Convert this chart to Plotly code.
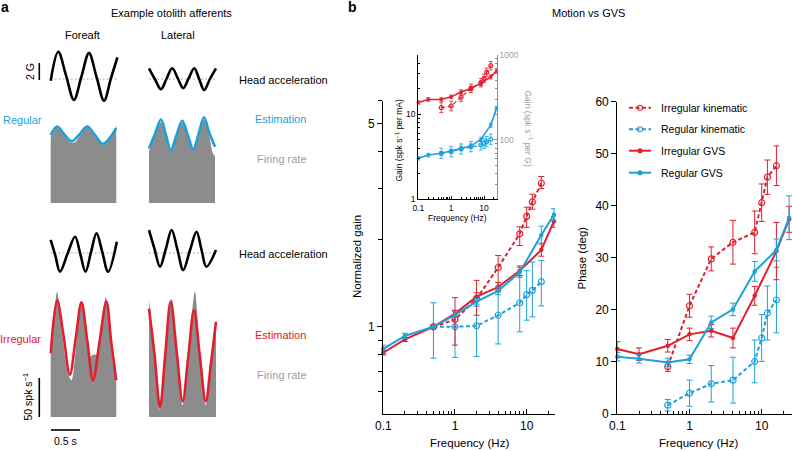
import plotly.graph_objects as go
import math

W, H = 792, 451
BLUE = "#1DA1DB"
RED = "#E0202E"
FILL = "#8C8C8C"
GTXT = "#9E9E9E"
FONT = "Liberation Sans, Arial, sans-serif"

# ---------------- panel b : normalized gain ----------------
GVS_FREQ = [0.1, 0.2, 0.5, 1, 2, 4, 8, 16, 24]
KIN_FREQ = [0.5, 1, 2, 4, 8, 10, 12, 16]

GAIN_IRR_GVS = [0.815, 0.905, 1.0, 1.11, 1.27, 1.37, 1.56, 1.84, 2.31]
GAIN_IRR_GVS_HI = [0.83, 0.92, 1.0, 1.14, 1.31, 1.42, 1.62, 1.93, 2.40]
GAIN_IRR_GVS_LO = [0.80, 0.89, 1.0, 1.08, 1.23, 1.32, 1.50, 1.75, 2.20]
GAIN_REG_GVS = [0.84, 0.93, 1.0, 1.10, 1.22, 1.33, 1.54, 2.07, 2.43]
GAIN_REG_GVS_HI = [0.865, 0.95, 1.0, 1.13, 1.25, 1.37, 1.60, 2.22, 2.55]
GAIN_REG_GVS_LO = [0.81, 0.91, 1.0, 1.08, 1.19, 1.29, 1.48, 1.94, 2.32]
GAIN_IRR_KIN = [1.0, 1.06, 1.25, 1.60, 2.09, 2.40, 2.69, 3.12]
GAIN_IRR_KIN_HI = [1.0, 1.26, 1.445, 1.76, 2.21, 2.58, 2.86, 3.29]
GAIN_IRR_KIN_LO = [1.0, 0.865, 1.096, 1.335, 1.905, 2.20, 2.54, 2.99]
GAIN_REG_KIN = [1.0, 1.0, 1.008, 1.096, 1.21, 1.29, 1.335, 1.43]
GAIN_REG_KIN_HI = [1.21, 1.135, 1.177, 1.378, 1.50, 1.56, 1.67, 1.69]
GAIN_REG_KIN_LO = [0.78, 0.785, 0.79, 0.873, 0.961, 1.054, 1.082, 1.18]

# ---------------- panel b : phase (deg) ----------------
PH_IRR_GVS = [12.5, 11.5, 13.1, 15.3, 16.0, 14.6, 22.7, 31.3, 37.4]
PH_IRR_GVS_ERR = [1.4, 1.2, 1.2, 1.2, 1.2, 1.9, 1.8, 5.5, 2.5]
PH_REG_GVS = [11.0, 10.6, 9.9, 10.5, 17.6, 20.1, 27.4, 31.5, 37.7]
PH_REG_GVS_ERR = [0.8, 0.8, 0.8, 0.8, 1.2, 1.2, 1.9, 2.1, 4.2]
PH_IRR_KIN = [9.1, 20.8, 29.8, 33.0, 34.9, 40.6, 45.5, 47.7]
PH_IRR_KIN_ERR = [0.9, 2.2, 2.3, 4.2, 4.1, 3.6, 3.3, 3.8]
PH_REG_KIN = [1.7, 4.0, 5.8, 6.5, 10.1, 14.6, 19.4, 21.9]
PH_REG_KIN_ERR = [1.1, 2.5, 3.5, 4.4, 4.1, 4.5, 5.2, 6.3]

# ---------------- inset : absolute gain ----------------
INS_IRR_GVS = [13.8, 15.0, 15.0, 16.1, 18.4, 20.2, 23.2, 27.7, 32.6]   # spk/s per mA
INS_REG_GVS = [3.04, 3.32, 3.48, 3.70, 3.98, 4.24, 5.08, 7.48, 11.8]
INS_GVS_REL_ERR = [0.05, 0.05, 0.05, 0.05, 0.06, 0.06, 0.06, 0.06, 0.06]
INS_IRR_KIN = [240, 251, 318, 405, 472, 532, 625, 748]                 # spk/s per G
INS_REG_KIN = [69.7, 72.8, 78.3, 83.4, 87.3, 91.4, 95.5, 102]
INS_IRR_KIN_REL_ERR = [0.14, 0.14, 0.12, 0.12, 0.12, 0.12, 0.12, 0.12]
INS_REG_KIN_REL_ERR = [0.15, 0.15, 0.15, 0.15, 0.15, 0.15, 0.15, 0.15]

# ---------------- panel a : example traces ----------------
# head acceleration (G) vs time (s)
HA_REG_FA_T = [0, 0.13, 0.265, 0.40, 0.53, 0.66, 0.79, 0.92, 1.035, 1.15]
HA_REG_FA_G = [-0.2, 3.25, 0.4, -2.5, 0.3, 3.1, 0.25, -2.6, 0.0, 2.6]
HA_REG_LAT_T = [0, 0.10, 0.207, 0.30, 0.40, 0.495, 0.59, 0.685, 0.78, 0.865, 0.95, 1.05, 1.155]
HA_REG_LAT_G = [1.28, 0.0, -1.23, 0.0, 1.28, 0.1, -1.11, 0.1, 1.28, 0.0, -1.32, 0.0, 1.28]
HA_IRR_FA_T = [0, 0.08, 0.16, 0.29, 0.42, 0.51, 0.60, 0.695, 0.79, 0.89, 0.99, 1.14]
HA_IRR_FA_G = [1.56, -0.3, -2.24, -0.1, 1.95, -0.1, -2.24, 0.1, 2.36, 0.1, -2.24, 1.35]
HA_IRR_LAT_T = [0, 0.095, 0.19, 0.29, 0.39, 0.49, 0.59, 0.705, 0.82, 0.905, 0.99, 1.155]
HA_IRR_LAT_G = [2.75, 0.5, -1.64, 0.5, 2.75, 0.4, -2.04, 0.3, 2.55, 0.4, -1.64, 0.36]

# estimation (spk/s)
EST_REG_FA_T = [0, 0.11, 0.235, 0.36, 0.495, 0.63, 0.765, 0.90, 1.13]
EST_REG_FA_V = [87, 98, 88, 79, 88, 98, 87, 76, 96]
EST_REG_LAT_T = [0, 0.1, 0.207, 0.29, 0.374, 0.474, 0.574, 0.67, 0.764, 0.856, 0.948, 1.04, 1.138]
EST_REG_LAT_V = [70, 88, 107, 88, 68, 87, 105.5, 87, 69, 89, 110, 90, 72]
EST_IRR_FA_T = [0, 0.11, 0.22, 0.33, 0.43, 0.53, 0.63, 0.73, 0.845, 0.96, 1.045, 1.13]
EST_IRR_FA_V = [82, 150, 105, 54, 100, 147, 98, 47, 98, 148, 95, 47]
EST_IRR_LAT_T = [0, 0.095, 0.19, 0.28, 0.374, 0.477, 0.58, 0.678, 0.776, 0.877, 0.978, 1.07, 1.155]
EST_IRR_LAT_V = [139, 80, 13, 80, 148, 84, 20, 78, 137, 78, 20, 70, 122]

# firing rate (spk/s)
FR_REG_FA_T = [0, 0.06, 0.11, 0.2, 0.3, 0.36, 0.42, 0.5, 0.58, 0.63, 0.7, 0.8, 0.9, 0.97, 1.05, 1.13]
FR_REG_FA_V = [84, 93, 97, 90, 80, 77, 78, 86, 95, 97, 93, 84, 76, 79, 88, 99]
FR_REG_LAT_T = [0, 0.1, 0.207, 0.29, 0.374, 0.474, 0.574, 0.67, 0.764, 0.856, 0.948, 1.04, 1.1, 1.138]
FR_REG_LAT_V = [66, 86, 104, 86, 67, 86, 103, 85, 68, 88, 107, 86, 64, 60]
FR_IRR_FA_T = [0, 0.06, 0.11, 0.2, 0.3, 0.36, 0.45, 0.53, 0.62, 0.68, 0.73, 0.79, 0.86, 0.95, 1.0, 1.07, 1.13]
FR_IRR_FA_V = [85, 130, 161, 105, 55, 47, 100, 147, 100, 77, 80, 80, 110, 154, 120, 70, 43]
FR_IRR_LAT_T = [0, 0.1, 0.19, 0.28, 0.39, 0.48, 0.58, 0.68, 0.79, 0.88, 0.978, 1.07, 1.155]
FR_IRR_LAT_V = [150, 80, 10, 82, 152, 84, 15, 80, 161, 80, 15, 72, 124]

# ---------------- layout geometry (pixels) ----------------
PX_PER_S = 58.0
PX_PER_G = 8.35
PX_PER_SPK = 0.78
X_FA, X_LAT = 50.7, 149.0
Y_REG_HA, Y_REG_FR, Y_IRR_HA, Y_IRR_FR = 79.0, 203.0, 253.0, 417.0


def dom_x(a, b):
    return [a / W, b / W]


def dom_y(top, bot):
    return [1 - bot / H, 1 - top / H]


fig = go.Figure()
OV = dict(xaxis="x5", yaxis="y5")


def px(t, v, x0, y0, s):
    return [x0 + ti * PX_PER_S for ti in t], [y0 - vi * s for vi in v]


# ---- panel a ----
def accel(t, g, x0, y0):
    xs, ys = px(t, g, x0, y0, PX_PER_G)
    fig.add_trace(go.Scatter(x=[xs[0], xs[-1]], y=[y0, y0], mode="lines",
                             line=dict(color="#9a9a9a", width=0.8, dash="2px,2px"),
                             hoverinfo="skip", showlegend=False, **OV))
    fig.add_trace(go.Scatter(x=xs, y=ys, mode="lines",
                             line=dict(color="black", width=2.6, shape="spline", smoothing=1),
                             hoverinfo="skip", showlegend=False, **OV))


def rate(t, v, x0, y0):
    xs, ys = px(t, v, x0, y0, PX_PER_SPK)
    fig.add_trace(go.Scatter(x=[xs[0], xs[-1]], y=[y0, y0], mode="lines",
                             line=dict(width=0, color=FILL), hoverinfo="skip",
                             showlegend=False, **OV))
    fig.add_trace(go.Scatter(x=xs, y=ys, mode="lines", fill="tonexty", fillcolor=FILL,
                             line=dict(width=0, color=FILL, shape="spline", smoothing=0.8),
                             hoverinfo="skip", showlegend=False, **OV))


def est(t, v, x0, y0, color):
    xs, ys = px(t, v, x0, y0, PX_PER_SPK)
    fig.add_trace(go.Scatter(x=xs, y=ys, mode="lines",
                             line=dict(color=color, width=2.6, shape="spline", smoothing=1),
                             hoverinfo="skip", showlegend=False, **OV))


accel(HA_REG_FA_T, HA_REG_FA_G, X_FA, Y_REG_HA)
accel(HA_REG_LAT_T, HA_REG_LAT_G, X_LAT, Y_REG_HA)
accel(HA_IRR_FA_T, HA_IRR_FA_G, X_FA, Y_IRR_HA)
accel(HA_IRR_LAT_T, HA_IRR_LAT_G, X_LAT, Y_IRR_HA)
rate(FR_REG_FA_T, FR_REG_FA_V, X_FA, Y_REG_FR)
rate(FR_REG_LAT_T, FR_REG_LAT_V, X_LAT, Y_REG_FR)
rate(FR_IRR_FA_T, FR_IRR_FA_V, X_FA, Y_IRR_FR)
rate(FR_IRR_LAT_T, FR_IRR_LAT_V, X_LAT, Y_IRR_FR)
est(EST_REG_FA_T, EST_REG_FA_V, X_FA, Y_REG_FR, BLUE)
est(EST_REG_LAT_T, EST_REG_LAT_V, X_LAT, Y_REG_FR, BLUE)
est(EST_IRR_FA_T, EST_IRR_FA_V, X_FA, Y_IRR_FR, RED)
est(EST_IRR_LAT_T, EST_IRR_LAT_V, X_LAT, Y_IRR_FR, RED)


# ---- panel b series ----
def series(x, y, hi, lo, color, kin, xa, ya, lw=2.0, msize=None, cap=3, ew=1.0):
    ey = None
    if hi is not None:
        ey = dict(type="data", symmetric=False,
                  array=[h - v for h, v in zip(hi, y)],
                  arrayminus=[v - l for v, l in zip(y, lo)],
                  color=color, thickness=ew, width=cap)
    if kin:
        marker = dict(symbol="circle-open", size=msize or 6, color=color,
                      line=dict(width=1.2, color=color))
        line = dict(color=color, width=lw, dash="4px,2.5px")
    else:
        marker = dict(symbol="circle", size=msize or 4.5, color=color)
        line = dict(color=color, width=lw)
    fig.add_trace(go.Scatter(x=x, y=y, mode="lines+markers", line=line, marker=marker,
                             error_y=ey, cliponaxis=False, showlegend=False,
                             xaxis=xa, yaxis=ya))


def sym(vals, errs):
    return [v + e for v, e in zip(vals, errs)], [v - e for v, e in zip(vals, errs)]


def rel(vals, r):
    return [v * (1 + e) for v, e in zip(vals, r)], [v / (1 + e) for v, e in zip(vals, r)]


# gain
series(KIN_FREQ, GAIN_REG_KIN, GAIN_REG_KIN_HI, GAIN_REG_KIN_LO, BLUE, True, "x", "y")
series(KIN_FREQ, GAIN_IRR_KIN, GAIN_IRR_KIN_HI, GAIN_IRR_KIN_LO, RED, True, "x", "y")
series(GVS_FREQ, GAIN_IRR_GVS, GAIN_IRR_GVS_HI, GAIN_IRR_GVS_LO, RED, False, "x", "y")
series(GVS_FREQ, GAIN_REG_GVS, GAIN_REG_GVS_HI, GAIN_REG_GVS_LO, BLUE, False, "x", "y")

# phase
h, l = sym(PH_REG_KIN, PH_REG_KIN_ERR)
series(KIN_FREQ, PH_REG_KIN, h, l, BLUE, True, "x2", "y2")
h, l = sym(PH_IRR_KIN, PH_IRR_KIN_ERR)
series(KIN_FREQ, PH_IRR_KIN, h, l, RED, True, "x2", "y2")
h, l = sym(PH_IRR_GVS, PH_IRR_GVS_ERR)
series(GVS_FREQ, PH_IRR_GVS, h, l, RED, False, "x2", "y2")
h, l = sym(PH_REG_GVS, PH_REG_GVS_ERR)
series(GVS_FREQ, PH_REG_GVS, h, l, BLUE, False, "x2", "y2")

# inset
h, l = rel(INS_REG_KIN, INS_REG_KIN_REL_ERR)
series(KIN_FREQ, INS_REG_KIN, h, l, BLUE, True, "x3", "y4", lw=1.2, msize=4, cap=2, ew=0.8)
h, l = rel(INS_IRR_KIN, INS_IRR_KIN_REL_ERR)
series(KIN_FREQ, INS_IRR_KIN, h, l, RED, True, "x3", "y4", lw=1.2, msize=4, cap=2, ew=0.8)
h, l = rel(INS_IRR_GVS, INS_GVS_REL_ERR)
series(GVS_FREQ, INS_IRR_GVS, h, l, RED, False, "x3", "y3", lw=1.6, msize=3.5, cap=2, ew=0.8)
h, l = rel(INS_REG_GVS, INS_GVS_REL_ERR)
series(GVS_FREQ, INS_REG_GVS, h, l, BLUE, False, "x3", "y3", lw=1.6, msize=3.5, cap=2, ew=0.8)

# ---- manual legend (phase panel) ----
LEG_Y = [107.7, 129.3, 150.7, 172.7]
LEG_TXT = ["Irregular kinematic", "Regular kinematic", "Irregular GVS", "Regular GVS"]
LEG_COL = [RED, BLUE, RED, BLUE]
LEG_KIN = [True, True, False, False]
shapes = []
for yy, c, k in zip(LEG_Y, LEG_COL, LEG_KIN):
    shapes.append(dict(type="line", xref="x5", yref="y5", x0=629, x1=651, y0=yy, y1=yy,
                       line=dict(color=c, width=2, dash="4px,2.5px" if k else "solid")))
    fig.add_trace(go.Scatter(x=[640], y=[yy], mode="markers", showlegend=False,
                             marker=dict(symbol="circle-open" if k else "circle",
                                         size=5 if k else 4, color=c,
                                         line=dict(width=1.1, color=c)),
                             hoverinfo="skip", **OV))

# scale bars
for (x0, y0, x1, y1) in [(39.3, 63, 39.3, 80), (39.3, 378, 39.3, 417), (51, 430, 80, 430)]:
    shapes.append(dict(type="line", xref="x5", yref="y5", x0=x0, y0=y0, x1=x1, y1=y1,
                       line=dict(color="black", width=1.6)))

ann = []


def txt(x, y, s, size=11, color="black", xa="center", angle=0):
    ann.append(dict(x=x, y=y, xref="x5", yref="y5", text=s, showarrow=False,
                    xanchor=xa, yanchor="middle", textangle=angle,
                    font=dict(size=size, color=color, family=FONT)))


txt(5, 7, "<b>a</b>", 14)
txt(352, 7, "<b>b</b>", 14)
txt(171, 13, "Example otolith afferents", 11)
txt(82.3, 35, "Foreaft", 11)
txt(178, 35, "Lateral", 11)
txt(29.5, 71.5, "2 G", 10.5, angle=-90)
txt(283, 80, "Head acceleration", 11)
txt(283, 253.5, "Head acceleration", 11)
txt(1, 120, "Regular", 11, BLUE, xa="left")
txt(43, 338.5, "Irregular", 11, RED, xa="right")
txt(280.7, 119, "Estimation", 11, BLUE)
txt(280.7, 335, "Estimation", 11, RED)
txt(281.5, 159, "Firing rate", 11, GTXT)
txt(281.5, 374.5, "Firing rate", 11, GTXT)
txt(27, 397.5, "50 spk s<sup>−1</sup>", 10.5, angle=-90)
txt(65.8, 440.5, "0.5 s", 10.5)
txt(588, 13, "Motion vs GVS", 11)
txt(357, 257, "Normalized gain", 11.5, angle=-90)
txt(581.5, 258, "Phase (deg)", 11.5, angle=-90)
txt(469, 443, "Frequency (Hz)", 11.5)
txt(698, 443, "Frequency (Hz)", 11.5)
txt(457.5, 217.5, "Frequency (Hz)", 8.5)
txt(398.5, 140, "Gain (spk s<sup>−1</sup> per mA)", 8.5, angle=-90)
txt(528, 128.5, "Gain (spk s<sup>−1</sup> per G)", 8.5, GTXT, angle=90)
for yy, s in zip(LEG_Y, LEG_TXT):
    txt(659, yy, s, 10.5, xa="left")

FREQ_MAJOR = [0.1, 1, 10]
FREQ_MINOR = [0.2, 0.3, 0.4, 0.5, 0.6, 0.7, 0.8, 0.9, 2, 3, 4, 5, 6, 7, 8, 9, 20]

common = dict(showline=True, linecolor="black", linewidth=1.2, showgrid=False,
              zeroline=False, tickcolor="black", automargin=False,
              tickfont=dict(size=12, family=FONT, color="black"), fixedrange=True)


def freq_axis(domain, rng, anchor, fs=12, tl=5, ml=3):
    d = dict(common)
    d.update(domain=domain, type="log", range=rng, anchor=anchor, tickmode="array",
             tickvals=FREQ_MAJOR, ticktext=["0.1", "1", "10"], ticks="inside", ticklen=tl,
             tickwidth=1, tickfont=dict(size=fs, family=FONT, color="black"),
             minor=dict(tickmode="array", tickvals=FREQ_MINOR, ticks="inside", ticklen=ml,
                        tickwidth=1, tickcolor="black", showgrid=False))
    return d


layout = dict(
    template="none",
    width=W, height=H, autosize=False, margin=dict(l=0, r=0, t=0, b=0, pad=0),
    paper_bgcolor="white", plot_bgcolor="rgba(0,0,0,0)", showlegend=False,
    font=dict(family=FONT, color="black"),
    xaxis=freq_axis(dom_x(383.3, 555), [-1, 1.395], "y"),
    yaxis=dict(common, domain=dom_y(100.7, 414.3), type="log",
               range=[math.log10(0.5), math.log10(6)], anchor="x", tickmode="array",
               tickvals=[1, 5], ticktext=["1", "5"], ticks="outside", ticklen=5,
               minor=dict(tickmode="array", tickvals=[0.6, 0.7, 0.8, 0.9, 2, 3, 4, 6],
                          ticks="outside", ticklen=4, tickcolor="black", showgrid=False)),
    xaxis2=freq_axis(dom_x(617.3, 792), [-1, 1.42], "y2"),
    yaxis2=dict(common, domain=dom_y(101.7, 414), range=[0, 60], anchor="x2",
                tickmode="array", tickvals=[0, 10, 20, 30, 40, 50, 60], ticks="outside",
                ticklen=5),
    xaxis3=freq_axis(dom_x(418.3, 496.7), [-1, 1.385], "y3", fs=8.5, tl=3, ml=2),
    yaxis3=dict(common, domain=dom_y(55, 199.3), type="log", range=[0, 1.7], anchor="x3",
                tickmode="array", tickvals=[1, 10], ticktext=["1", "10"], ticks="inside",
                ticklen=3, tickfont=dict(size=8.5, family=FONT, color="black"),
                minor=dict(tickmode="array", tickvals=[2, 3, 4, 5, 6, 7, 8, 9, 20, 30, 40, 50],
                           ticks="inside", ticklen=2, tickcolor="black", showgrid=False)),
    yaxis4=dict(common, overlaying="y3", side="right", type="log", range=[1.302, 3],
                anchor="x3", tickmode="array", tickvals=[100, 1000], ticktext=["100", "1000"],
                ticks="inside", ticklen=3, linecolor="#8a8a8a", tickcolor="#8a8a8a",
                tickfont=dict(size=8.5, family=FONT, color=GTXT),
                minor=dict(tickmode="array",
                           tickvals=[30, 40, 50, 60, 70, 80, 90, 200, 300, 400, 500, 600, 700, 800, 900],
                           ticks="inside", ticklen=2, tickcolor="#8a8a8a", showgrid=False)),
    xaxis5=dict(domain=[0, 1], range=[0, W], visible=False, fixedrange=True, anchor="y5",
                automargin=False),
    yaxis5=dict(domain=[0, 1], range=[H, 0], visible=False, fixedrange=True, anchor="x5",
                automargin=False),
    shapes=shapes, annotations=ann,
)
fig.update_layout(**layout)
fig.write_html("out.html", config={"displayModeBar": False},
               post_script="document.body.style.margin='0';document.body.style.padding='0';")
